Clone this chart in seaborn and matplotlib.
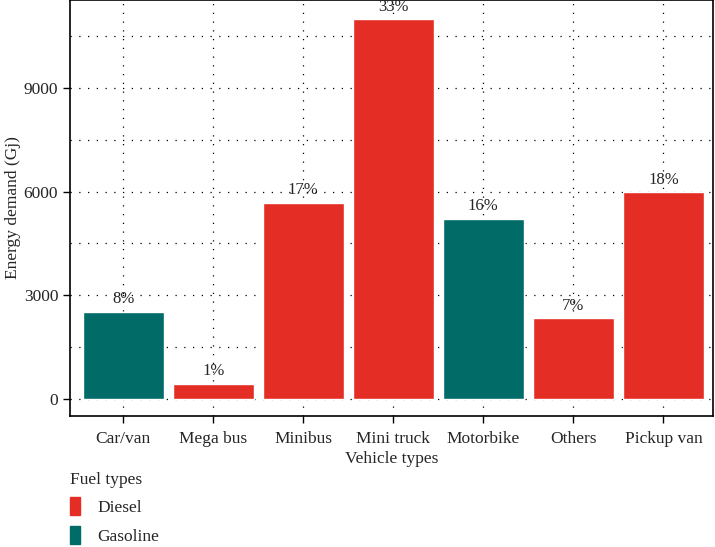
import numpy as np
import pandas as pd
import matplotlib.pyplot as plt
import seaborn as sns
from matplotlib.patches import Patch

vehicles = ['Car/van', 'Mega bus', 'Minibus', 'Mini truck', 'Motorbike', 'Others', 'Pickup van']
fuel = ['Gasoline', 'Diesel', 'Diesel', 'Diesel', 'Gasoline', 'Diesel', 'Diesel']
energy = [2530, 440, 5680, 10980, 5220, 2330, 5980]
shares = ['8%', '1%', '17%', '33%', '16%', '7%', '18%']

df = pd.DataFrame({'Vehicle types': vehicles, 'Fuel types': fuel, 'Energy': energy})
palette = {'Diesel': '#E32D25', 'Gasoline': '#016B67'}

sns.set_style('ticks')
plt.rcParams['font.family'] = ['Liberation Serif', 'DejaVu Serif']

fig = plt.figure(figsize=(7.15, 5.47), dpi=100)
ax = fig.add_axes([70/715, 1 - 416/547, 643/715, 416/547])

sns.barplot(data=df, x='Vehicle types', y='Energy', hue='Fuel types',
            hue_order=['Diesel', 'Gasoline'], palette=palette, dodge=False,
            width=0.9, saturation=1, ax=ax, legend=False)
for p in ax.patches:
    p.set_zorder(3)

for bar_x, (v, s) in enumerate(zip(energy, shares)):
    ax.text(bar_x, v + 130, s, ha='center', va='bottom', fontsize=12, zorder=4)

ax.set_ylim(-492, 11543)
ax.set_xlim(-0.59, 6.55)
ax.set_yticks([0, 3000, 6000, 9000])
ax.set_yticks([1500, 4500, 7500, 10500], minor=True)
ax.grid(True, which='both', axis='y', color='black', linestyle=(0, (1, 6)), linewidth=0.9, zorder=1)
ax.grid(True, which='major', axis='x', color='black', linestyle=(0, (1, 6)), linewidth=0.9, zorder=1)
ax.set_axisbelow(True)
ax.tick_params(axis='both', which='major', labelsize=12.5, direction='out', length=5, width=1, color='black')
ax.tick_params(axis='x', which='major', pad=6)
ax.tick_params(axis='y', which='minor', length=0)
for sp in ax.spines.values():
    sp.set_visible(True)
    sp.set_color('black')
    sp.set_linewidth(1.2)
ax.set_xlabel('Vehicle types', fontsize=12.5, labelpad=3)
ax.set_ylabel('Energy demand (Gj)', fontsize=12.5, labelpad=2)

handles = [Patch(color=palette['Diesel'], label='Diesel'),
           Patch(color=palette['Gasoline'], label='Gasoline')]
leg = fig.legend(handles=handles, title='Fuel types', loc='lower left',
                 bbox_to_anchor=(54/715, -0.024), frameon=False, fontsize=12.5,
                 title_fontsize=12.5, handlelength=0.6, handleheight=1.2,
                 handletextpad=1.0, labelspacing=0.55)
leg._legend_box.align = 'left'

fig.savefig('out.png', dpi=100)
